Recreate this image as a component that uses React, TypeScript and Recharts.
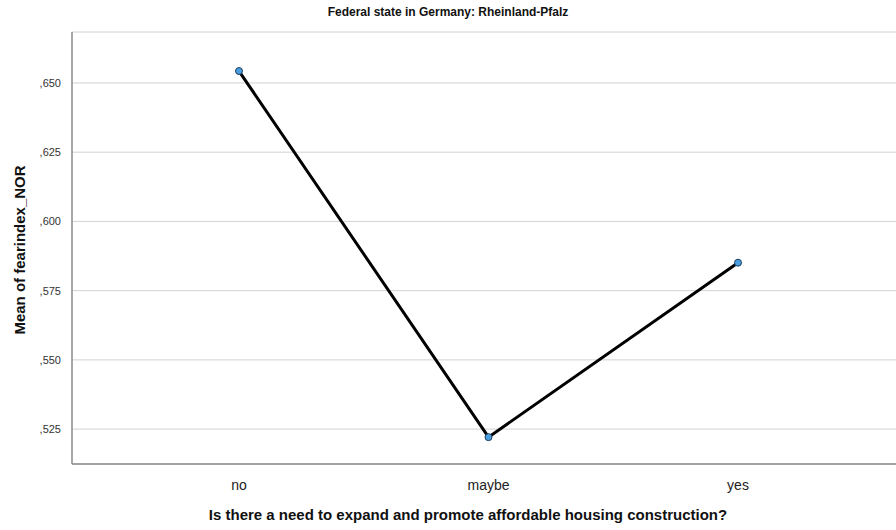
import { LineChart, Line, XAxis, YAxis, CartesianGrid } from "recharts";

const categories = ["no", "maybe", "yes"];
const means = [0.6543, 0.5221, 0.5851];
const yTicks = [0.525, 0.55, 0.575, 0.6, 0.625, 0.65];

const data = categories.map((c, i) => ({ cat: c, mean: means[i] }));

const font = "'Liberation Sans', Arial, sans-serif";

function fmt(v: number): string {
  return "," + Math.round(v * 1000).toString();
}

export default function App() {
  return (
    <div style={{ position: "relative", width: 896, height: 530, background: "#fff", fontFamily: font }}>
      <style>{"body{margin:0}"}</style>
      <div
        style={{
          position: "absolute",
          top: 5,
          left: 0,
          width: 896,
          textAlign: "center",
          fontSize: 12,
          fontWeight: "bold",
          color: "#111",
        }}
      >
        Federal state in Germany: Rheinland-Pfalz
      </div>
      <LineChart width={896} height={530} data={data} margin={{ top: 32, right: 0, bottom: 36, left: 0 }}>
        <CartesianGrid vertical={false} stroke="#d2d2d2" strokeWidth={1} />
        <XAxis
          dataKey="cat"
          height={30}
          padding={{ left: 167, right: 158 }}
          tickLine={false}
          axisLine={{ stroke: "#8a8a8a", strokeWidth: 1.5 }}
          tick={{ fontSize: 14, fill: "#222", stroke: "none", fontFamily: font }}
          tickMargin={10}
        />
        <YAxis
          width={72}
          domain={[0.5124, 0.6684]}
          ticks={yTicks}
          tickFormatter={fmt}
          tickLine={false}
          axisLine={{ stroke: "#8a8a8a", strokeWidth: 1.5 }}
          tick={{ fontSize: 11, fill: "#333", stroke: "none", fontFamily: font }}
          tickMargin={5}
        />
        <Line
          dataKey="mean"
          type="linear"
          stroke="#000"
          strokeWidth={3}
          dot={{ r: 3.5, fill: "#4a9ee0", stroke: "#1d3f5e", strokeWidth: 1 }}
          activeDot={false}
          isAnimationActive={false}
        />
      </LineChart>
      <div
        style={{
          position: "absolute",
          top: 506,
          left: 40,
          width: 856,
          textAlign: "center",
          fontSize: 15,
          fontWeight: "bold",
          color: "#111",
        }}
      >
        Is there a need to expand and promote affordable housing construction?
      </div>
      <div
        style={{
          position: "absolute",
          left: 19,
          top: 250,
          transform: "translate(-50%, -50%) rotate(-90deg)",
          whiteSpace: "nowrap",
          fontSize: 15,
          fontWeight: "bold",
          color: "#111",
        }}
      >
        Mean of fearindex_NOR
      </div>
    </div>
  );
}
